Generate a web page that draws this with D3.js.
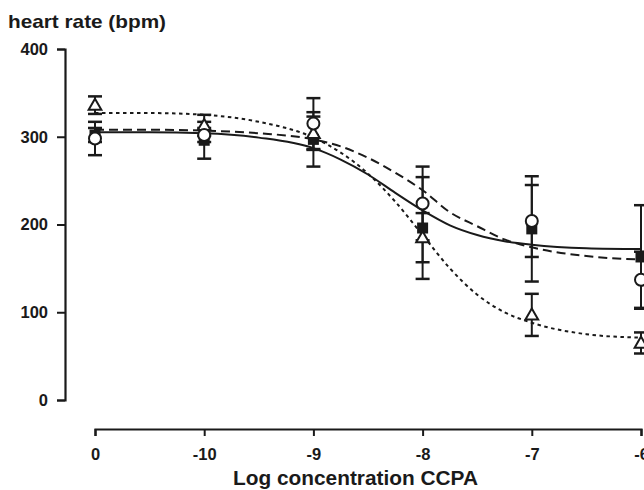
<!DOCTYPE html>
<html>
<head>
<meta charset="utf-8">
<script src="https://cdn.jsdelivr.net/npm/d3@7"></script>
<style>
  body { margin: 0; background: #fff; }
  text { font-family: "Liberation Sans", Arial, sans-serif; font-weight: bold; fill: #1a1a1a; }
</style>
</head>
<body>
<div class="chartBox"></div>
<script>
// x values are log concentration, the control ("0") sits at -11
var xTicks      = [-11, -10, -9, -8, -7, -6];
var xTickLabels = ['0', '-10', '-9', '-8', '-7', '-6'];
var yTicks      = [0, 100, 200, 300, 400];

// measured points: value and error (SEM)
var squareVal  = [302, 296, 297, 196, 195, 163];
var squareErr  = [8, 21, 31, 58, 60, 59];
var circleVal  = [298, 302, 315, 224, 204, 137];
var circleErr  = [19, 8, 29, 42, 41, 32];
var triVal     = [336, 313, 304, 185, 97, 65];
var triErr     = [10, 12, 19, 28, 24, 12];

// fitted curves
var curveX      = [-11, -10.5, -10, -9.5, -9, -8.75, -8.5, -8.25, -8, -7.75, -7.5, -7.25, -7, -6.5, -6];
var solidCurve  = [305, 305, 304, 299, 287, 274, 257, 236, 216, 199, 188, 181, 177, 173, 172];
var dashedCurve = [308, 308, 307, 304, 297, 289, 276, 259, 239, 214, 198, 183, 174, 164, 160];
var dottedCurve = [327, 327, 325, 317, 299, 282, 258, 226, 188, 150, 120, 100, 88, 75, 71];

var w = 644, h = 490;

var canvas = d3.select('.chartBox')
  .append('svg')
  .attr('width', w)
  .attr('height', h);

var x = d3.scaleLinear().domain([-11, -6]).range([95, 641]);
var y = d3.scaleLinear().domain([0, 400]).range([400, 49]);

// y axis
var yAxis = canvas.append('g')
  .attr('transform', 'translate(65,0)')
  .call(d3.axisLeft(y).tickValues(yTicks).tickSize(8).tickPadding(9));

// x axis, drawn separately below the plot
var xAxis = canvas.append('g')
  .attr('transform', 'translate(0,429)')
  .call(d3.axisBottom(x).tickValues(xTicks).tickSize(7).tickPadding(12)
    .tickFormat(function(d, i){ return xTickLabels[i]; }));

canvas.selectAll('.domain, .tick line')
  .attr('stroke', '#1a1a1a')
  .attr('stroke-width', 2);
canvas.selectAll('.domain').attr('stroke-width', 2.2);
canvas.selectAll('.tick text')
  .attr('fill', '#1a1a1a')
  .style('font-size', '16.5px');

// titles
canvas.append('text')
  .attr('x', 8)
  .attr('y', 28)
  .attr('textLength', 158)
  .attr('lengthAdjust', 'spacingAndGlyphs')
  .style('font-size', '19px')
  .text('heart rate (bpm)');

canvas.append('text')
  .attr('x', 233)
  .attr('y', 485)
  .attr('textLength', 245)
  .attr('lengthAdjust', 'spacingAndGlyphs')
  .style('font-size', '19.5px')
  .text('Log concentration CCPA');

// curves
var line = d3.line()
  .x(function(d, i){ return x(curveX[i]); })
  .y(function(d){ return y(d); })
  .curve(d3.curveMonotoneX);

function drawCurve(vals, dash){
  canvas.append('path')
    .attr('d', line(vals))
    .attr('fill', 'none')
    .attr('stroke', '#1a1a1a')
    .attr('stroke-width', 2)
    .attr('stroke-dasharray', dash);
}
drawCurve(dottedCurve, '3.5,3.5');
drawCurve(dashedCurve, '9,5');
drawCurve(solidCurve, null);

// error bars
function drawErrors(vals, errs){
  var g = canvas.append('g');
  g.selectAll('line.bar')
    .data(vals)
    .enter()
    .append('line')
    .attr('x1', function(d, i){ return x(xTicks[i]); })
    .attr('x2', function(d, i){ return x(xTicks[i]); })
    .attr('y1', function(d, i){ return y(d + errs[i]); })
    .attr('y2', function(d, i){ return y(d - errs[i]); })
    .attr('stroke', '#1a1a1a')
    .attr('stroke-width', 2);
  [1, -1].forEach(function(s){
    g.selectAll('line.cap' + s)
      .data(vals)
      .enter()
      .append('line')
      .attr('x1', function(d, i){ return x(xTicks[i]) - 7; })
      .attr('x2', function(d, i){ return x(xTicks[i]) + 7; })
      .attr('y1', function(d, i){ return y(d + s * errs[i]); })
      .attr('y2', function(d, i){ return y(d + s * errs[i]); })
      .attr('stroke', '#1a1a1a')
      .attr('stroke-width', 2.5);
  });
}
drawErrors(squareVal, squareErr);
drawErrors(triVal, triErr);
drawErrors(circleVal, circleErr);

// markers
canvas.selectAll('rect.sq')
  .data(squareVal)
  .enter()
  .append('rect')
  .attr('x', function(d, i){ return x(xTicks[i]) - 5.5; })
  .attr('y', function(d){ return y(d) - 5.5; })
  .attr('width', 11)
  .attr('height', 11)
  .attr('fill', '#1a1a1a');

canvas.selectAll('path.tri')
  .data(triVal)
  .enter()
  .append('path')
  .attr('d', d3.symbol().type(d3.symbolTriangle).size(70))
  .attr('transform', function(d, i){ return 'translate(' + x(xTicks[i]) + ',' + (y(d) + 1) + ')'; })
  .attr('fill', '#fff')
  .attr('stroke', '#1a1a1a')
  .attr('stroke-width', 2);

canvas.selectAll('circle.ci')
  .data(circleVal)
  .enter()
  .append('circle')
  .attr('cx', function(d, i){ return x(xTicks[i]); })
  .attr('cy', function(d){ return y(d); })
  .attr('r', 6)
  .attr('fill', '#fff')
  .attr('stroke', '#1a1a1a')
  .attr('stroke-width', 2);
</script>
</body>
</html>
